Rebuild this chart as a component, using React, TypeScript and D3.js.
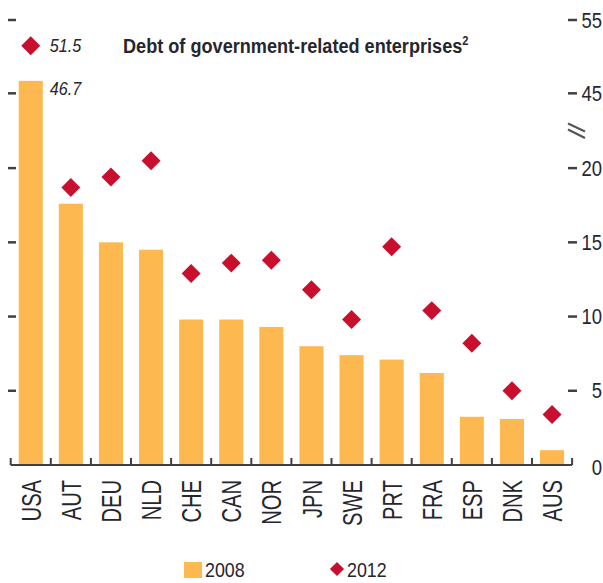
import React from 'react';
import * as d3 from 'd3';

const categories = ['USA', 'AUT', 'DEU', 'NLD', 'CHE', 'CAN', 'NOR', 'JPN', 'SWE', 'PRT', 'FRA', 'ESP', 'DNK', 'AUS'];
const values2008 = [46.7, 17.6, 15.0, 14.5, 9.8, 9.8, 9.3, 8.0, 7.4, 7.1, 6.2, 3.25, 3.1, 1.0];
const values2012 = [51.5, 18.7, 19.4, 20.5, 12.9, 13.6, 13.8, 11.8, 9.8, 14.7, 10.4, 8.2, 5.0, 3.4];
const tickValues = [0, 5, 10, 15, 20, 45, 55];
const seriesNames = ['2008', '2012'];
const title = 'Debt of government-related enterprises';

const W = 603;
const H = 583;
const FONT = '"Liberation Sans Narrow", "Arial Narrow", "Liberation Sans", sans-serif';
const BAR = '#FDB94F';
const DIAMOND = '#C8102E';
const AXIS = '#404040';
const TEXT = '#26262e';

export default function App() {
  // broken axis: lower segment 0..22.5, upper segment 40..55 (compressed)
  const y = d3.scaleLinear().domain([0, 22.5, 40, 55]).range([465, 131, 130, 20]);
  const sep = d3.scaleBand<number>().domain(d3.range(categories.length)).range([10.7, 572.1]).padding(0);
  const x = d3.scaleBand().domain(categories).range([10.7, 572.1]).paddingInner(0.4).paddingOuter(0.2);
  const bw = x.bandwidth();
  const diamond = d3.symbol().type(d3.symbolSquare).size(180)();
  const diamondSmall = d3.symbol().type(d3.symbolSquare).size(100)();
  const y0 = y(0);

  return (
    <svg width={W} height={H} style={{ position: 'absolute', left: 0, top: 0 }} fontFamily={FONT}>
      <rect width={W} height={H} fill="#fff" />
      {/* title */}
      <text transform="translate(123,53) scale(0.93,1)" fontSize={19.5} fontWeight="bold" fill={TEXT}>
        {title}
        <tspan dy={-8} fontSize={12}>2</tspan>
      </text>
      {/* bars */}
      {categories.map((c, i) => (
        <rect key={c} x={x(c)} y={y(values2008[i])} width={bw} height={y0 - y(values2008[i])} fill={BAR} />
      ))}
      {/* diamonds */}
      {categories.map((c, i) => (
        <path key={c} d={diamond!} transform={`translate(${x(c)! + bw / 2},${y(values2012[i])}) rotate(45)`} fill={DIAMOND} />
      ))}
      {/* value labels for USA */}
      <text
        transform={`translate(${x('USA')! + bw + 7},${y(values2012[0])}) scale(0.85,1)`}
        dy="0.35em"
        fontSize={19}
        fontStyle="italic"
        fill={TEXT}
      >
        {values2012[0].toFixed(1)}
      </text>
      <text
        transform={`translate(${x('USA')! + bw + 7},${y(values2008[0])}) scale(0.85,1)`}
        dy="0.75em"
        fontSize={19}
        fontStyle="italic"
        fill={TEXT}
      >
        {values2008[0].toFixed(1)}
      </text>
      {/* x axis */}
      <line x1={sep.range()[0]} x2={sep.range()[1]} y1={y0} y2={y0} stroke={AXIS} strokeWidth={2} />
      {d3.range(categories.length + 1).map((k) => {
        const xx = k < categories.length ? sep(k)! : sep.range()[1];
        return <line key={k} x1={xx} x2={xx} y1={y0} y2={y0 - 7} stroke={AXIS} strokeWidth={2} />;
      })}
      {categories.map((c) => (
        <text
          key={c}
          transform={`translate(${x(c)! + bw / 2},480) rotate(-90) scale(0.72,1)`}
          textAnchor="end"
          dy="0.36em"
          fontSize={28}
          fill={TEXT}
        >
          {c}
        </text>
      ))}
      {/* left ticks */}
      {tickValues.filter((v) => v > 0).map((v) => (
        <line key={v} x1={8} x2={16} y1={y(v)} y2={y(v)} stroke={AXIS} strokeWidth={2.5} />
      ))}
      {/* right ticks & labels */}
      {tickValues.filter((v) => v > 0).map((v) => (
        <line key={v} x1={568} x2={577} y1={y(v)} y2={y(v)} stroke={AXIS} strokeWidth={2.5} />
      ))}
      {tickValues.map((v) => (
        <text
          key={v}
          transform={`translate(602,${y(v) + (v === 0 ? 2 : 0)}) scale(0.84,1)`}
          dy="0.35em"
          textAnchor="end"
          fontSize={22}
          fill={TEXT}
        >
          {v}
        </text>
      ))}
      {/* axis break */}
      <line x1={568} y1={123.5} x2={585} y2={131.5} stroke="#555" strokeWidth={2.2} />
      <line x1={568} y1={129.5} x2={585} y2={138} stroke="#555" strokeWidth={2.2} />
      {/* legend */}
      <rect x={184} y={562} width={18} height={16} fill={BAR} />
      <text transform="translate(205,570) scale(0.85,1)" dy="0.35em" fontSize={21} fill={TEXT}>{seriesNames[0]}</text>
      <path d={diamondSmall!} transform="translate(337,569) rotate(45)" fill={DIAMOND} />
      <text transform="translate(347,570) scale(0.85,1)" dy="0.35em" fontSize={21} fill={TEXT}>{seriesNames[1]}</text>
    </svg>
  );
}
